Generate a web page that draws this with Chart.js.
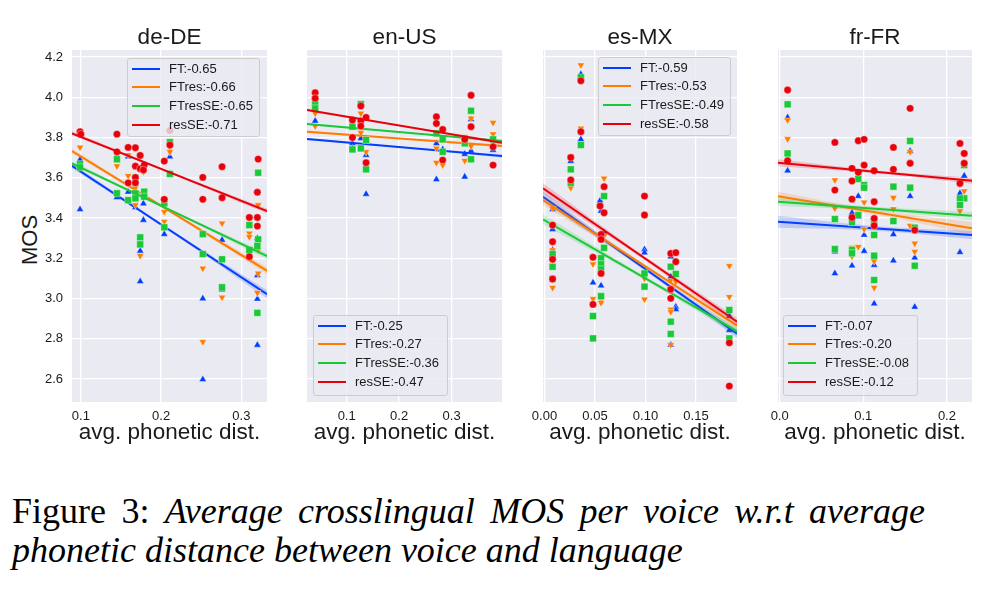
<!DOCTYPE html>
<html>
<head>
<meta charset="utf-8">
<script src="https://cdn.jsdelivr.net/npm/chart.js@4.4.1/dist/chart.umd.min.js"></script>
<style>
  html,body{margin:0;padding:0;background:#fff;}
  body{width:1000px;height:604px;overflow:hidden;position:relative;font-family:"Liberation Sans",Arial,sans-serif;}
  canvas{position:absolute;top:0;}
  .leg{position:absolute;box-sizing:border-box;background:rgba(234,234,242,0.8);border:1px solid #cccccc;border-radius:3px;}
  .leg .h{position:absolute;height:2px;}
  .leg .t{position:absolute;font-size:13px;line-height:16px;color:#1a1a1a;white-space:nowrap;}
  .cap{position:absolute;left:12px;font-family:"Liberation Serif","Times New Roman",serif;font-size:36px;line-height:40px;color:#000;}
  .cap i{font-style:italic;}
  #mos{position:absolute;left:30px;top:240px;font-size:22px;line-height:26px;color:#1a1a1a;white-space:nowrap;transform:translate(-50%,-50%) rotate(-90deg);}
</style>
</head>
<body>
<div class="cap" id="cap1" style="top:491px;width:913px;text-align:justify;text-align-last:justify;">Figure 3: <i>Average crosslingual MOS per voice w.r.t average</i></div>
<div class="cap" id="cap2" style="top:530px;"><i>phonetic distance between voice and language</i></div>
<div id="mos">MOS</div>
<script>
// ---------------- DATA ----------------
const seriesNames = ['FT','FTres','FTresSE','resSE'];
const yTicks = [2.6,2.8,3.0,3.2,3.4,3.6,3.8,4.0,4.2];
const yRange = [2.486, 4.235];

// de-DE
const deDE_FT = [[0.099,3.443],[0.099,3.69],[0.145,3.503],[0.145,3.71],[0.159,3.705],[0.159,3.53],[0.168,3.453],[0.168,3.50],[0.174,3.237],[0.174,3.085],[0.178,3.472],[0.178,3.39],[0.204,3.32],[0.211,3.705],[0.211,3.62],[0.252,3.0],[0.252,2.598],[0.276,3.291],[0.276,3.044],[0.310,3.22],[0.320,3.30],[0.320,3.115],[0.320,2.998],[0.320,2.769]];
const deDE_FTres = [[0.099,3.751],[0.145,3.725],[0.145,3.658],[0.159,3.713],[0.159,3.61],[0.168,3.465],[0.168,3.55],[0.174,3.213],[0.178,3.63],[0.204,3.431],[0.204,3.382],[0.211,3.751],[0.211,3.729],[0.252,3.15],[0.252,2.785],[0.276,3.006],[0.276,3.374],[0.310,3.324],[0.310,3.307],[0.321,3.241],[0.321,3.125],[0.320,3.029],[0.321,3.465]];
const deDE_FTresSE = [[0.099,3.668],[0.099,3.652],[0.145,3.692],[0.145,3.523],[0.159,3.489],[0.168,3.523],[0.168,3.498],[0.168,3.60],[0.168,3.575],[0.179,3.531],[0.179,3.506],[0.174,3.304],[0.174,3.269],[0.211,3.777],[0.211,3.619],[0.204,3.473],[0.204,3.354],[0.252,3.32],[0.252,3.221],[0.276,3.195],[0.276,3.056],[0.310,3.365],[0.310,3.241],[0.321,3.625],[0.321,3.294],[0.320,3.261],[0.320,2.929]];
const deDE_resSE = [[0.099,3.829],[0.100,3.817],[0.145,3.817],[0.145,3.729],[0.159,3.751],[0.168,3.749],[0.174,3.711],[0.168,3.658],[0.174,3.645],[0.179,3.663],[0.178,3.639],[0.159,3.575],[0.168,3.602],[0.168,3.575],[0.204,3.683],[0.204,3.493],[0.211,3.835],[0.211,3.763],[0.252,3.602],[0.252,3.493],[0.276,3.655],[0.276,3.501],[0.310,3.403],[0.310,3.208],[0.321,3.693],[0.320,3.528],[0.320,3.403],[0.320,3.360]];
const deDE_fitStart = [3.660,3.733,3.672,3.821];
const deDE_fitEnd = [3.022,3.138,3.211,3.435];
const deDE_band = [[0.012,0.006,0.02],[0.012,0.006,0.018],[0.01,0.005,0.015],[0.01,0.005,0.012]];
const deDE_corr = ['-0.65','-0.66','-0.65','-0.71'];
const deDE_xTicks = [0.1,0.2,0.3];

// en-US
const enUS_FT = [[0.040,3.883],[0.111,3.771],[0.111,3.746],[0.127,3.879],[0.127,3.796],[0.137,3.713],[0.137,3.519],[0.271,3.771],[0.271,3.592],[0.283,3.741],[0.325,3.718],[0.325,3.605],[0.337,3.89],[0.337,3.734],[0.379,3.738]];
const enUS_FTres = [[0.040,3.92],[0.040,3.857],[0.111,3.86],[0.127,3.92],[0.127,3.824],[0.137,3.729],[0.271,3.746],[0.271,3.675],[0.283,3.663],[0.283,3.69],[0.325,3.804],[0.325,3.685],[0.337,3.895],[0.337,3.758],[0.379,3.874],[0.379,3.817]];
const enUS_FTresSE = [[0.040,3.973],[0.040,3.945],[0.111,3.854],[0.111,3.741],[0.127,3.966],[0.127,3.746],[0.137,3.788],[0.137,3.642],[0.271,3.821],[0.283,3.791],[0.283,3.729],[0.325,3.771],[0.337,3.933],[0.337,3.692],[0.379,3.791]];
const enUS_resSE = [[0.040,4.023],[0.040,3.995],[0.111,3.887],[0.111,3.80],[0.127,3.957],[0.127,3.883],[0.127,3.857],[0.137,3.90],[0.137,3.675],[0.271,3.903],[0.271,3.87],[0.283,3.84],[0.283,3.688],[0.325,3.791],[0.337,4.01],[0.337,3.854],[0.379,3.754],[0.379,3.663]];
const enUS_fitStart = [3.793,3.829,3.867,3.937];
const enUS_fitEnd = [3.708,3.758,3.783,3.774];
const enUS_band = [[0.006,0.003,0.008],[0.006,0.003,0.008],[0.006,0.003,0.008],[0.006,0.003,0.008]];
const enUS_corr = ['-0.25','-0.27','-0.36','-0.47'];
const enUS_xTicks = [0.1,0.2,0.3];

// es-MX
const esMX_FT = [[0.036,4.115],[0.036,3.791],[0.026,3.683],[0.055,3.486],[0.056,3.435],[0.008,3.443],[0.008,3.344],[0.008,3.241],[0.008,3.158],[0.048,3.079],[0.056,3.064],[0.059,3.329],[0.099,3.244],[0.099,3.228],[0.125,3.208],[0.125,3.108],[0.125,2.77],[0.130,2.959],[0.130,2.946],[0.183,2.913],[0.183,2.843]];
const esMX_FTres = [[0.036,4.16],[0.036,3.846],[0.026,3.708],[0.026,3.55],[0.059,3.597],[0.059,3.311],[0.008,3.448],[0.008,3.241],[0.008,3.054],[0.048,3.171],[0.048,2.998],[0.056,2.993],[0.056,2.979],[0.099,3.10],[0.099,2.996],[0.125,3.089],[0.125,2.946],[0.125,2.934],[0.125,2.77],[0.130,3.084],[0.183,3.163],[0.183,3.009]];
const esMX_FTresSE = [[0.036,4.099],[0.036,3.763],[0.026,3.642],[0.026,3.575],[0.059,3.509],[0.059,3.252],[0.008,3.221],[0.008,3.158],[0.008,3.097],[0.048,2.913],[0.048,2.802],[0.056,3.2],[0.056,3.171],[0.056,3.145],[0.056,3.012],[0.099,3.125],[0.099,3.059],[0.125,3.158],[0.125,2.885],[0.125,2.824],[0.130,3.122],[0.183,2.943],[0.183,2.802]];
const esMX_resSE = [[0.036,4.082],[0.036,3.829],[0.026,3.701],[0.026,3.589],[0.059,3.556],[0.059,3.426],[0.055,3.46],[0.099,3.509],[0.099,3.415],[0.008,3.365],[0.008,3.282],[0.008,3.195],[0.008,3.097],[0.048,3.205],[0.048,2.971],[0.056,3.319],[0.056,3.294],[0.056,3.125],[0.125,3.224],[0.125,3.046],[0.125,3.001],[0.130,3.228],[0.130,3.183],[0.183,2.78],[0.183,2.565]];
const esMX_fitStart = [3.506,3.489,3.394,3.548];
const esMX_fitEnd = [2.825,2.865,2.838,2.885];
const esMX_band = [[0.025,0.01,0.02],[0.025,0.01,0.02],[0.025,0.01,0.02],[0.025,0.01,0.02]];
const esMX_corr = ['-0.59','-0.53','-0.49','-0.58'];
const esMX_xTicks = [0.00,0.05,0.10,0.15];

// fr-FR
const frFR_FT = [[0.0095,3.90],[0.0095,3.635],[0.066,3.233],[0.066,3.125],[0.0865,3.426],[0.0865,3.163],[0.094,3.509],[0.094,3.406],[0.101,3.316],[0.101,3.236],[0.113,3.166],[0.113,2.975],[0.136,3.319],[0.136,3.188],[0.156,3.733],[0.156,3.509],[0.1615,3.203],[0.1615,2.958],[0.2156,3.523],[0.2156,3.23],[0.2207,3.61]];
const frFR_FTres = [[0.0095,3.887],[0.0095,3.793],[0.066,3.589],[0.066,3.448],[0.0865,3.253],[0.0865,3.21],[0.094,3.257],[0.101,3.478],[0.101,3.345],[0.113,3.186],[0.113,3.054],[0.136,3.501],[0.136,3.445],[0.156,3.729],[0.156,3.362],[0.1615,3.274],[0.1615,3.233],[0.2207,3.534],[0.2156,3.435]];
const frFR_FTresSE = [[0.0095,3.965],[0.0095,3.721],[0.066,3.395],[0.066,3.246],[0.0865,3.379],[0.0865,3.241],[0.0865,3.225],[0.094,3.594],[0.094,3.415],[0.101,3.564],[0.101,3.551],[0.113,3.382],[0.113,3.316],[0.113,3.213],[0.113,3.092],[0.136,3.556],[0.136,3.385],[0.156,3.783],[0.156,3.551],[0.1615,3.352],[0.1615,3.163],[0.2207,3.663],[0.2207,3.498],[0.2156,3.498],[0.2156,3.465]];
const frFR_resSE = [[0.0095,4.036],[0.0095,3.685],[0.066,3.776],[0.066,3.539],[0.0865,3.647],[0.0865,3.584],[0.0865,3.494],[0.0865,3.403],[0.094,3.784],[0.094,3.627],[0.101,3.791],[0.101,3.663],[0.113,3.635],[0.113,3.481],[0.113,3.398],[0.113,3.362],[0.136,3.751],[0.136,3.642],[0.156,3.945],[0.156,3.672],[0.1615,3.34],[0.2156,3.771],[0.2156,3.572],[0.2207,3.721],[0.2207,3.672]];
const frFR_fitStart = [3.382,3.509,3.481,3.675];
const frFR_fitEnd = [3.316,3.349,3.411,3.585];
const frFR_band = [[0.03,0.012,0.02],[0.022,0.012,0.03],[0.02,0.01,0.02],[0.017,0.008,0.015]];
const frFR_corr = ['-0.07','-0.20','-0.08','-0.12'];
const frFR_xTicks = [0.0,0.1,0.2];

// ---------------- STYLE / LAYOUT ----------------
const COLORS = ['#023eff','#ff7c00','#1ac938','#e8000b'];
const BANDS = ['rgba(2,62,255,0.18)','rgba(255,124,0,0.18)','rgba(26,201,56,0.18)','rgba(232,0,11,0.18)'];
const PSTYLE = ['triangle','triangle','rect','circle'];
const PROT = [0,180,0,0];
const PRAD = [4.2,4.2,4.9,3.7];
const FONT = "'Liberation Sans', Arial, sans-serif";
const TXT = '#1a1a1a';

const panels = [
  {title:'de-DE', pl:72, pr:267, xr:[0.089,0.332], dec:1, ticks:deDE_xTicks, showY:true,
   pts:[deDE_FT,deDE_FTres,deDE_FTresSE,deDE_resSE], f0:deDE_fitStart, f1:deDE_fitEnd, band:deDE_band, corr:deDE_corr, leg:[127,58,133,79]},
  {title:'en-US', pl:307, pr:502, xr:[0.0244,0.396], dec:1, ticks:enUS_xTicks, showY:false,
   pts:[enUS_FT,enUS_FTres,enUS_FTresSE,enUS_resSE], f0:enUS_fitStart, f1:enUS_fitEnd, band:enUS_band, corr:enUS_corr, leg:[313,315,135,81]},
  {title:'es-MX', pl:543, pr:737, xr:[-0.0015,0.1906], dec:2, ticks:esMX_xTicks, showY:false,
   pts:[esMX_FT,esMX_FTres,esMX_FTresSE,esMX_resSE], f0:esMX_fitStart, f1:esMX_fitEnd, band:esMX_band, corr:esMX_corr, leg:[598,57,133,79]},
  {title:'fr-FR', pl:778, pr:972, xr:[-0.002,0.23], dec:1, ticks:frFR_xTicks, showY:false,
   pts:[frFR_FT,frFR_FTres,frFR_FTresSE,frFR_resSE], f0:frFR_fitStart, f1:frFR_fitEnd, band:frFR_band, corr:frFR_corr, leg:[783,315,135,81]}
];

const bgPlugin = {id:'bg', beforeDraw(c){const a=c.chartArea, ctx=c.ctx; ctx.save(); ctx.fillStyle='#eaeaf2'; ctx.fillRect(a.left,a.top,a.right-a.left,a.bottom-a.top); ctx.restore();}};

const CH = 460, RPAD = 15;
panels.forEach(p => {
  const L = p.showY ? p.pl : 25;
  const cv = document.createElement('canvas');
  const w = L + (p.pr - p.pl) + RPAD;
  cv.width = w; cv.height = CH;
  cv.style.left = (p.pl - L) + 'px';
  cv.style.width = w + 'px'; cv.style.height = CH + 'px';
  document.body.appendChild(cv);

  const x0 = p.xr[0], x1 = p.xr[1], xm = (x0 + x1) / 2;
  const datasets = [];
  const N = 4 * 4;
  let k = 0;
  for (let i = 0; i < 4; i++) {
    datasets.push({type:'scatter', data:p.pts[i].map(d => ({x:d[0], y:d[1]})),
      pointStyle:PSTYLE[i], pointRotation:PROT[i], pointRadius:PRAD[i], pointHoverRadius:PRAD[i],
      pointBackgroundColor:COLORS[i], pointBorderColor:'rgba(255,255,255,0.55)', pointBorderWidth:0.7,
      showLine:false, order:N - (k++)});
    const ym = (p.f0[i] + p.f1[i]) / 2, b = p.band[i];
    datasets.push({type:'line', data:[{x:x0,y:p.f0[i]+b[0]},{x:xm,y:ym+b[1]},{x:x1,y:p.f1[i]+b[2]}],
      borderWidth:0, pointRadius:0, fill:false, tension:0.4, order:N - (k++)});
    datasets.push({type:'line', data:[{x:x0,y:p.f0[i]-b[0]},{x:xm,y:ym-b[1]},{x:x1,y:p.f1[i]-b[2]}],
      borderWidth:0, pointRadius:0, fill:'-1', backgroundColor:BANDS[i], tension:0.4, order:N - (k++)});
    datasets.push({type:'line', data:[{x:x0,y:p.f0[i]},{x:x1,y:p.f1[i]}],
      borderColor:COLORS[i], borderWidth:2, pointRadius:0, fill:false, order:N - (k++)});
  }

  new Chart(cv, {
    type:'scatter',
    data:{datasets},
    plugins:[bgPlugin],
    options:{
      responsive:false, animation:false, devicePixelRatio:1,
      layout:{padding:{left:0, right:RPAD, top:0, bottom:0}},
      plugins:{
        legend:{display:false}, tooltip:{enabled:false},
        title:{display:true, text:p.title, fullSize:false, color:TXT,
          font:{family:FONT, size:22.5, weight:'normal', lineHeight:1.0}, padding:{top:27, bottom:0.5}}
      },
      scales:{
        x:{type:'linear', min:x0, max:x1,
          afterBuildTicks:s => { s.ticks = p.ticks.map(v => ({value:v})); },
          afterFit:s => { s.height = CH - 402; },
          ticks:{callback:v => Number(v).toFixed(p.dec), color:TXT, font:{family:FONT, size:13}, padding:7, maxRotation:0, autoSkip:false},
          grid:{color:'#ffffff', lineWidth:1.3, drawTicks:false},
          border:{display:false},
          title:{display:true, text:'avg. phonetic dist.', color:TXT, font:{family:FONT, size:22.5, lineHeight:1.2}, padding:{top:0, bottom:13.5}}
        },
        y:{type:'linear', min:yRange[0], max:yRange[1],
          afterBuildTicks:s => { s.ticks = yTicks.map(v => ({value:v})); },
          afterFit:s => { s.width = L; },
          ticks:{display:p.showY, callback:v => Number(v).toFixed(1), color:TXT, font:{family:FONT, size:13}, padding:9},
          grid:{color:'#ffffff', lineWidth:1.3, drawTicks:false},
          border:{display:false},
          title:{display:false}
        }
      }
    }
  });

  // legend (HTML overlay)
  const box = document.createElement('div');
  box.className = 'leg';
  box.style.left = p.leg[0] + 'px'; box.style.top = p.leg[1] + 'px';
  box.style.width = p.leg[2] + 'px'; box.style.height = p.leg[3] + 'px';
  seriesNames.forEach((s, i) => {
    const cy = 9.5 + 18.7 * i;
    const h = document.createElement('div');
    h.className = 'h'; h.style.left = '4px'; h.style.width = '28px'; h.style.top = (cy - 1) + 'px'; h.style.background = COLORS[i];
    const t = document.createElement('div');
    t.className = 't'; t.style.left = '41px'; t.style.top = (cy - 8) + 'px';
    t.textContent = s + ':' + p.corr[i];
    box.appendChild(h); box.appendChild(t);
  });
  document.body.appendChild(box);
});
</script>
</body>
</html>
